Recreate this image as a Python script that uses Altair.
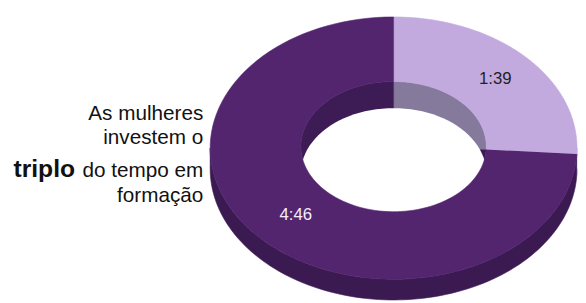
import math
import altair as alt
import pandas as pd

# ---- data ----
labels = ["1:39", "4:46"]
minutes = [99, 286]          # 1h39 vs 4h46
caption_top = ["As mulheres", "investem o"]
caption_bold = "triplo"
caption_rest = ["do tempo em", "formação"]

# ---- layout / style ----
W, H = 578, 295
CX = 399
CYO, RXO, RYO = 148, 186, 133
CYI, RXI, RYI = 146.5, 94, 66
SIDE_DEPTH = 21
HOLE_DEPTH = 27
FONT = "Liberation Sans"

top_colors = ["#c2aadf", "#53256f"]
side_colors = ["#85799c", "#3b1a52"]
wall_colors = ["#85799c", "#3d1b54"]
label_colors = ["#222222", "#f4eefa"]

xs = alt.Scale(domain=[8, 8 + W], nice=False, zero=False)
ys = alt.Scale(domain=[8 + H, 8], nice=False, zero=False)

df = pd.DataFrame({"label": labels, "minutes": minutes, "k": list(range(len(labels)))})

base = (
    alt.Chart(df)
    .transform_window(cum="sum(minutes)", sort=[alt.SortField("k")], frame=[None, 0])
    .transform_joinaggregate(total="sum(minutes)")
    .transform_calculate(
        a0="2*PI*(datum.cum - datum.minutes)/datum.total",
        a1="2*PI*datum.cum/datum.total",
    )
)

# whole circle (sum of all slices) for the see-through opening
whole = (
    alt.Chart(df)
    .transform_aggregate(total="sum(minutes)")
    .transform_calculate(label="'all'", a0="0", a1="2*PI")
)


def outline(src, cy1, rx1, ry1, cy2, rx2, ry2, lo=None, hi=None, single=False):
    ch = src
    if lo is None:
        ch = ch.transform_calculate(s="datum.a0", e="datum.a1")
    else:
        ch = ch.transform_calculate(
            s=f"max(datum.a0, {lo})", e=f"min(datum.a1, {hi})"
        ).transform_filter("datum.e > datum.s")
    n_end = 101 if single else 202
    return (
        ch.transform_calculate(t=f"sequence(0, {n_end})")
        .transform_flatten(["t"])
        .transform_calculate(
            th="datum.t <= 100 ? datum.s + (datum.e - datum.s) * datum.t / 100"
               " : datum.e - (datum.e - datum.s) * (datum.t - 101) / 100",
            px=f"{CX} + (datum.t <= 100 ? {rx1} : {rx2}) * sin(datum.th)",
            py=f"datum.t <= 100 ? {cy1} - {ry1} * cos(datum.th) : {cy2} - {ry2} * cos(datum.th)",
        )
    )


def piece(src, colors, **kw):
    sc = alt.Scale(domain=labels, range=colors)
    return outline(src, **kw).mark_line(filled=True, strokeWidth=0.6).encode(
        x=alt.X("px:Q", scale=xs, axis=None),
        y=alt.Y("py:Q", scale=ys, axis=None),
        order=alt.Order("t:Q"),
        color=alt.Color("label:N", scale=sc, legend=None),
        stroke=alt.Stroke("label:N", scale=sc, legend=None),
    )


side = piece(base, side_colors, cy1=CYO, rx1=RXO, ry1=RYO,
             cy2=CYO + SIDE_DEPTH, rx2=RXO, ry2=RYO, lo=math.pi / 2, hi=3 * math.pi / 2)
wall = piece(base, wall_colors, cy1=CYI, rx1=RXI, ry1=RYI, cy2=CYI, rx2=0, ry2=0)
hole = (
    outline(whole, cy1=CYI + HOLE_DEPTH, rx1=RXI, ry1=RYI, cy2=0, rx2=0, ry2=0, single=True)
    .mark_line(filled=True, color="#ffffff")
    .encode(
        x=alt.X("px:Q", scale=xs, axis=None),
        y=alt.Y("py:Q", scale=ys, axis=None),
        order=alt.Order("t:Q"),
    )
)
top = piece(base, top_colors, cy1=CYO, rx1=RXO, ry1=RYO, cy2=CYI, rx2=RXI, ry2=RYI)

values = (
    base.transform_calculate(
        mid="(datum.a0 + datum.a1) / 2",
        lx=f"{CX + 2} + {(RXO + RXI) / 2} * sin(datum.mid)",
        ly=f"{(CYO + CYI) / 2} - {(RYO + RYI) / 2} * cos(datum.mid)",
    )
    .mark_text(font=FONT, fontSize=17, align="center", baseline="middle")
    .encode(
        x=alt.X("lx:Q", scale=xs, axis=None),
        y=alt.Y("ly:Q", scale=ys, axis=None),
        text="label:N",
        color=alt.Color("label:N", scale=alt.Scale(domain=labels, range=label_colors), legend=None),
    )
)


def caption(txt, x, y, size=21, weight="normal"):
    return (
        alt.Chart(pd.DataFrame({"t": [txt]}))
        .mark_text(font=FONT, fontSize=size, fontWeight=weight, align="right",
                   baseline="alphabetic", color="#111111")
        .encode(text="t:N", x=alt.value(x), y=alt.value(y))
    )


cap = [
    caption(caption_top[0], 198, 112),
    caption(caption_top[1], 198, 136),
    caption(caption_bold, 68, 169, size=25, weight="bold"),
    caption(caption_rest[0], 198, 169),
    caption(caption_rest[1], 198, 195),
]

chart = (
    alt.layer(side, wall, hole, top, values, *cap)
    .resolve_scale(color="independent", stroke="independent")
    .properties(width=W, height=H, autosize=alt.AutoSizeParams(type="none"), padding=0)
    .configure_view(stroke=None)
)

chart.save("out.html", embed_options={"renderer": "svg", "actions": False})
